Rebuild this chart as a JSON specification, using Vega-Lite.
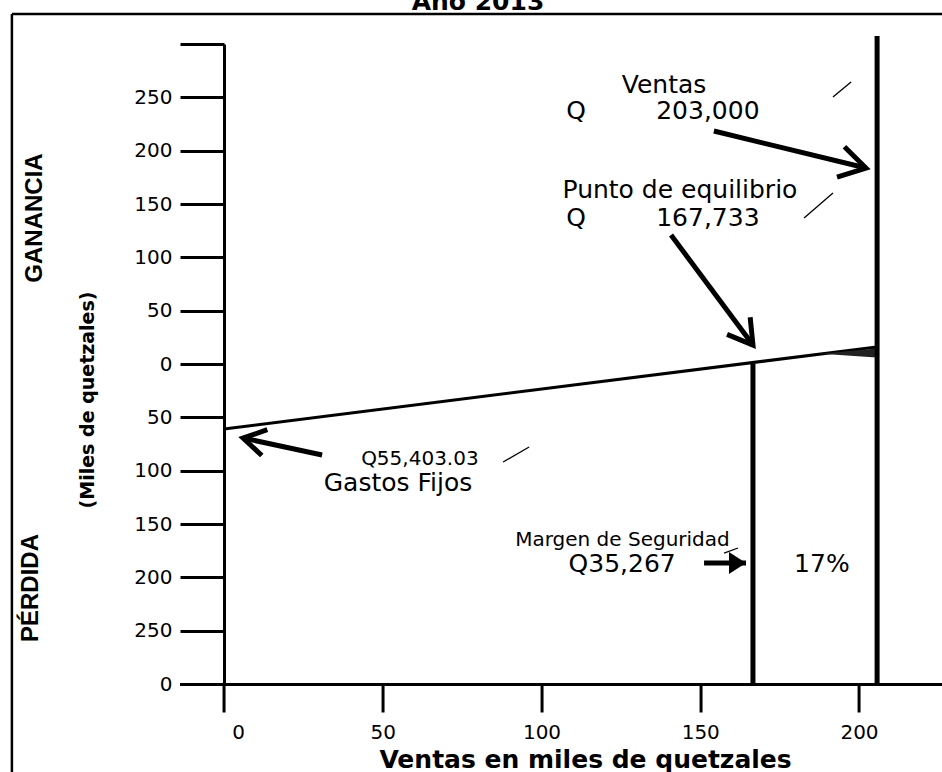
{
  "$schema": "https://vega.github.io/schema/vega-lite/v6.json",
  "width": 762,
  "height": 640,
  "autosize": {"type": "none"},
  "padding": {"left": 179.55, "top": 44, "right": 0.45, "bottom": 88},
  "background": "white",
  "config": {"view": {"stroke": null}, "font": "DejaVu Sans"},
  "datasets": {
    "linea": [
      {"ventas": 0, "resultado": -61},
      {"ventas": 205.6, "resultado": 16}
    ],
    "marco": [
      {"ventas": -66.8, "resultado": 328.1, "ventas2": -66.8, "resultado2": -420},
      {"ventas": -66.8, "resultado": 328.1, "ventas2": 250, "resultado2": 328.1}
    ],
    "cuna": [
      {"ventas": 188, "resultado": 9.5, "resultado2": 9.5},
      {"ventas": 205.5, "resultado": 14.5, "resultado2": 6}
    ],
    "verticales": [
      {"serie": "Punto de equilibrio", "ventas": 166.6, "resultado": 0, "resultado2": -300},
      {"serie": "Ventas", "ventas": 205.7, "resultado": 307.5, "resultado2": -300}
    ],
    "flechas": [
      {"id": "ventas", "ventas": 154.3, "resultado": 218.4, "ventas2": 202.2, "resultado2": 183.7},
      {"id": "equilibrio", "ventas": 140.8, "resultado": 120.9, "ventas2": 166.6, "resultado2": 17.8},
      {"id": "fijos", "ventas": 30.9, "resultado": -85.3, "ventas2": 6.0, "resultado2": -69.4},
      {"id": "margen", "ventas": 151.2, "resultado": -186.6, "ventas2": 164.4, "resultado2": -186.6}
    ],
    "marcas": [
      {"ventas": 191.8, "resultado": 250.3, "ventas2": 197.5, "resultado2": 264.4},
      {"ventas": 182.7, "resultado": 136.9, "ventas2": 191.8, "resultado2": 160.3},
      {"ventas": 87.9, "resultado": -91.9, "ventas2": 96.1, "resultado2": -77.8},
      {"ventas": 157.5, "resultado": -177.2, "ventas2": 161.9, "resultado2": -172.5}
    ],
    "textos": [
      {"grupo": "grande", "label": "Ventas", "ventas": 138.6, "resultado": 254.3},
      {"grupo": "grande", "label": "Q", "ventas": 110.9, "resultado": 229.7},
      {"grupo": "grande", "label": "203,000", "ventas": 152.4, "resultado": 229.7},
      {"grupo": "grande", "label": "Punto de equilibrio", "ventas": 143.6, "resultado": 155.6},
      {"grupo": "grande", "label": "Q", "ventas": 110.9, "resultado": 129.4},
      {"grupo": "grande", "label": "167,733", "ventas": 152.4, "resultado": 129.4},
      {"grupo": "grande", "label": "Gastos Fijos", "ventas": 54.8, "resultado": -119.1},
      {"grupo": "grande", "label": "Q35,267", "ventas": 125.4, "resultado": -195},
      {"grupo": "grande", "label": "17%", "ventas": 188.3, "resultado": -195},
      {"grupo": "chica", "label": "Q55,403.03", "ventas": 61.7, "resultado": -94.7},
      {"grupo": "chica", "label": "Margen de Seguridad", "ventas": 125.5, "resultado": -170.6}
    ],
    "rotulos": [
      {"label": "GANANCIA", "ventas": -59.5, "resultado": 136.9},
      {"label": "PÉRDIDA", "ventas": -60.8, "resultado": -210}
    ],
    "titulos": [
      {"label": "(Miles de quetzales)", "ventas": -42.8, "resultado": -33.7}
    ],
    "encabezado": [
      {"label": "Año 2013", "ventas": 80, "resultado": 331.9}
    ]
  },
  "layer": [
    {
      "data": {"name": "linea"},
      "mark": {"type": "line", "color": "black", "strokeWidth": 3},
      "encoding": {
        "x": {
          "field": "ventas", "type": "quantitative",
          "scale": {"domain": [-14, 226], "nice": false, "zero": false},
          "axis": {
            "values": [0, 50, 100, 150, 200],
            "labelOffset": {"condition": {"test": "datum.value == 0", "value": 14}, "value": 0},
            "grid": false,
            "domainColor": "black", "domainWidth": 3,
            "tickColor": "black", "tickWidth": 3, "tickSize": 28,
            "labelFont": "DejaVu Sans", "labelFontSize": 20, "labelColor": "black", "labelPadding": 10,
            "title": "Ventas en miles de quetzales",
            "titleFont": "DejaVu Sans", "titleFontWeight": "bold", "titleFontSize": 25, "titleColor": "black",
            "titleX": 405.5, "titleY": 83, "titleBaseline": "alphabetic", "titleAlign": "center"
          }
        },
        "y": {
          "field": "resultado", "type": "quantitative",
          "scale": {"domain": [-300, 300], "nice": false, "zero": false},
          "axis": {
            "values": [-300, -250, -200, -150, -100, -50, 0, 50, 100, 150, 200, 250, 300],
            "labelExpr": "datum.value == 300 ? '' : (datum.value == -300 ? '0' : format(abs(datum.value), 'd'))",
            "grid": false,
            "offset": -44.45,
            "domainColor": "black", "domainWidth": 3,
            "tickColor": "black", "tickWidth": 3, "tickSize": 44,
            "labelFont": "DejaVu Sans", "labelFontSize": 20, "labelColor": "black", "labelPadding": 8,
            "title": null
          }
        }
      }
    },
    {
      "data": {"name": "marco"},
      "mark": {"type": "rule", "color": "black", "strokeWidth": 2.5},
      "encoding": {
        "x": {"field": "ventas", "type": "quantitative"},
        "y": {"field": "resultado", "type": "quantitative"},
        "x2": {"field": "ventas2"},
        "y2": {"field": "resultado2"}
      }
    },
    {
      "mark": {"type": "rule", "color": "black", "strokeWidth": 2.5},
      "encoding": {"y": {"datum": 0, "type": "quantitative"}}
    },
    {
      "data": {"name": "cuna"},
      "mark": {"type": "area", "color": "#222222"},
      "encoding": {
        "x": {"field": "ventas", "type": "quantitative"},
        "y": {"field": "resultado", "type": "quantitative"},
        "y2": {"field": "resultado2"}
      }
    },
    {
      "data": {"name": "verticales"},
      "mark": {"type": "rule", "color": "black", "strokeWidth": 5},
      "encoding": {
        "x": {"field": "ventas", "type": "quantitative"},
        "y": {"field": "resultado", "type": "quantitative"},
        "y2": {"field": "resultado2"}
      }
    },
    {
      "data": {"name": "flechas"},
      "mark": {"type": "rule", "color": "black", "strokeWidth": 5},
      "encoding": {
        "x": {"field": "ventas", "type": "quantitative"},
        "y": {"field": "resultado", "type": "quantitative"},
        "x2": {"field": "ventas2"},
        "y2": {"field": "resultado2"}
      }
    },
    {
      "data": {"name": "flechas"},
      "transform": [{"filter": "datum.id == 'ventas'"}],
      "mark": {"type": "point", "shape": "M-1,-0.6L0,0L-1,0.6", "filled": false, "stroke": "black", "strokeWidth": 5, "opacity": 1, "size": 2704, "angle": 13.7},
      "encoding": {
        "x": {"field": "ventas2", "type": "quantitative"},
        "y": {"field": "resultado2", "type": "quantitative"}
      }
    },
    {
      "data": {"name": "flechas"},
      "transform": [{"filter": "datum.id == 'equilibrio'"}],
      "mark": {"type": "point", "shape": "M-1,-0.6L0,0L-1,0.6", "filled": false, "stroke": "black", "strokeWidth": 5, "opacity": 1, "size": 2304, "angle": 53.3},
      "encoding": {
        "x": {"field": "ventas2", "type": "quantitative"},
        "y": {"field": "resultado2", "type": "quantitative"}
      }
    },
    {
      "data": {"name": "flechas"},
      "transform": [{"filter": "datum.id == 'fijos'"}],
      "mark": {"type": "point", "shape": "M-1,-0.6L0,0L-1,0.6", "filled": false, "stroke": "black", "strokeWidth": 5, "opacity": 1, "size": 1936, "angle": 192.1},
      "encoding": {
        "x": {"field": "ventas2", "type": "quantitative"},
        "y": {"field": "resultado2", "type": "quantitative"}
      }
    },
    {
      "data": {"name": "flechas"},
      "transform": [{"filter": "datum.id == 'margen'"}],
      "mark": {"type": "point", "shape": "M-1,-0.65L0,0L-1,0.65Z", "filled": true, "color": "black", "opacity": 1, "size": 1156, "angle": 0},
      "encoding": {
        "x": {"field": "ventas2", "type": "quantitative"},
        "y": {"field": "resultado2", "type": "quantitative"}
      }
    },
    {
      "data": {"name": "marcas"},
      "mark": {"type": "rule", "color": "black", "strokeWidth": 1.3},
      "encoding": {
        "x": {"field": "ventas", "type": "quantitative"},
        "y": {"field": "resultado", "type": "quantitative"},
        "x2": {"field": "ventas2"},
        "y2": {"field": "resultado2"}
      }
    },
    {
      "data": {"name": "textos"},
      "transform": [{"filter": "datum.grupo == 'grande'"}],
      "mark": {"type": "text", "font": "DejaVu Sans", "fontSize": 25, "color": "black", "align": "center", "baseline": "alphabetic"},
      "encoding": {
        "x": {"field": "ventas", "type": "quantitative"},
        "y": {"field": "resultado", "type": "quantitative"},
        "text": {"field": "label"}
      }
    },
    {
      "data": {"name": "textos"},
      "transform": [{"filter": "datum.grupo == 'chica'"}],
      "mark": {"type": "text", "font": "DejaVu Sans", "fontSize": 20, "color": "black", "align": "center", "baseline": "alphabetic"},
      "encoding": {
        "x": {"field": "ventas", "type": "quantitative"},
        "y": {"field": "resultado", "type": "quantitative"},
        "text": {"field": "label"}
      }
    },
    {
      "data": {"name": "rotulos"},
      "mark": {"type": "text", "font": "Liberation Sans", "fontWeight": "bold", "fontSize": 24, "color": "black", "align": "center", "baseline": "middle", "angle": 270},
      "encoding": {
        "x": {"field": "ventas", "type": "quantitative"},
        "y": {"field": "resultado", "type": "quantitative"},
        "text": {"field": "label"}
      }
    },
    {
      "data": {"name": "titulos"},
      "mark": {"type": "text", "font": "DejaVu Sans", "fontWeight": "bold", "fontSize": 19, "color": "black", "align": "center", "baseline": "middle", "angle": 270},
      "encoding": {
        "x": {"field": "ventas", "type": "quantitative"},
        "y": {"field": "resultado", "type": "quantitative"},
        "text": {"field": "label"}
      }
    },
    {
      "data": {"name": "encabezado"},
      "mark": {"type": "text", "font": "DejaVu Sans", "fontWeight": "bold", "fontSize": 25, "color": "black", "align": "center", "baseline": "alphabetic"},
      "encoding": {
        "x": {"field": "ventas", "type": "quantitative"},
        "y": {"field": "resultado", "type": "quantitative"},
        "text": {"field": "label"}
      }
    }
  ]
}
